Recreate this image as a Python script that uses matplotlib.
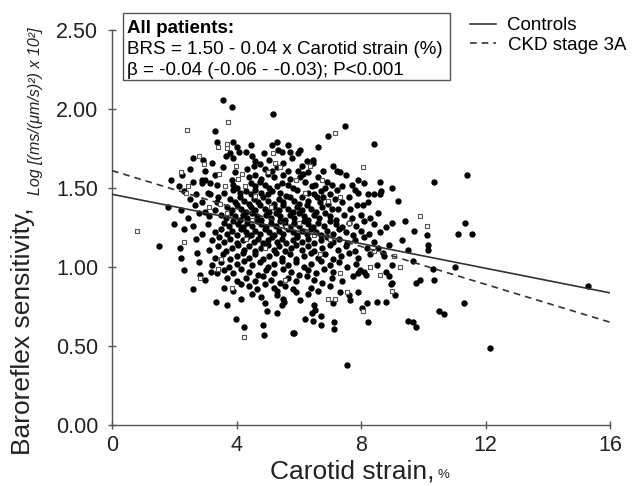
import matplotlib
matplotlib.use("Agg")
import matplotlib.pyplot as plt
from matplotlib.patches import Rectangle
import numpy as np

plt.rcParams['font.family'] = ['Liberation Sans', 'DejaVu Sans']

# Controls (filled circles)
controls_pts = [
    (3.57, 2.06), (3.86, 2.01), (3.31, 1.86), (5.18, 1.97), (6.95, 1.83), (7.49, 1.89), (8.42, 1.78),
    (3.38, 1.79), (3.90, 1.79), (5.30, 1.79), (5.14, 1.77), (5.66, 1.77), (4.47, 1.77),
    (4.08, 1.73), (4.30, 1.73), (4.89, 1.72), (3.80, 1.72), (5.72, 1.73), (6.05, 1.74), (5.98, 1.72),
    (5.34, 1.74), (5.47, 1.73), (4.50, 1.70), (3.67, 1.70), (6.60, 1.76), (4.00, 1.76),
    (3.90, 1.69), (2.93, 1.68), (6.27, 1.67), (6.46, 1.68), (6.46, 1.66), (5.79, 1.69), (5.50, 1.66),
    (7.10, 1.64), (4.60, 1.67), (4.75, 1.65), (5.05, 1.68), (3.20, 1.66), (2.60, 1.69),
    (3.57, 1.63), (5.30, 1.63), (5.14, 1.61), (5.66, 1.61), (6.78, 1.61), (7.33, 1.60), (7.23, 1.61),
    (5.98, 1.61), (6.30, 1.60), (4.35, 1.62), (4.55, 1.64), (4.90, 1.62), (6.10, 1.64), (3.00, 1.61), (2.50, 1.62),
    (3.95, 1.60), (2.25, 1.58), (2.90, 1.55), (2.99, 1.55), (3.86, 1.55), (6.14, 1.59), (6.05, 1.57),
    (7.90, 1.55), (6.91, 1.54), (4.40, 1.57), (4.60, 1.58), (4.80, 1.56), (5.00, 1.59), (5.20, 1.57),
    (5.50, 1.58), (5.70, 1.56), (6.60, 1.57), (7.50, 1.58), (8.60, 1.54), (10.35, 1.54), (11.40, 1.58), (3.30, 1.58),
    (2.90, 1.53), (2.15, 1.51), (3.15, 1.53), (3.38, 1.52), (3.90, 1.52), (4.02, 1.50), (7.72, 1.52),
    (6.43, 1.51), (6.53, 1.52), (7.07, 1.52), (7.40, 1.51), (5.30, 1.51), (5.47, 1.53), (5.66, 1.52),
    (5.82, 1.50), (4.45, 1.53), (4.60, 1.51), (4.75, 1.54), (4.90, 1.52), (5.05, 1.50), (6.20, 1.54),
    (6.85, 1.50), (8.10, 1.53), (9.00, 1.50), (2.60, 1.54), (1.90, 1.55),
    (3.90, 1.49), (3.09, 1.47), (3.15, 1.46), (7.80, 1.49), (7.90, 1.47), (7.23, 1.49), (5.95, 1.49),
    (8.23, 1.46), (8.40, 1.46), (8.60, 1.46), (8.65, 1.48), (4.10, 1.47), (4.30, 1.48), (4.45, 1.46),
    (4.60, 1.49), (4.80, 1.47), (5.00, 1.46), (5.15, 1.48), (5.40, 1.47), (5.60, 1.45), (6.30, 1.47),
    (6.50, 1.46), (6.70, 1.48), (7.00, 1.46), (3.60, 1.47), (2.70, 1.46), (2.30, 1.48),
    (3.41, 1.44), (3.38, 1.41), (6.11, 1.44), (6.59, 1.44), (6.69, 1.41), (6.78, 1.44), (7.40, 1.41),
    (8.23, 1.41), (9.20, 1.42), (3.80, 1.43), (3.95, 1.41), (4.10, 1.44), (4.25, 1.42), (4.40, 1.40),
    (4.55, 1.43), (4.70, 1.41), (4.85, 1.44), (5.00, 1.42), (5.20, 1.40), (5.35, 1.43), (5.50, 1.41),
    (5.70, 1.44), (5.85, 1.42), (6.00, 1.40), (6.30, 1.42), (6.95, 1.40), (7.15, 1.43), (7.60, 1.44),
    (2.50, 1.43), (2.90, 1.41),
    (2.67, 1.39), (7.27, 1.37), (7.07, 1.37), (7.65, 1.37), (7.88, 1.39), (8.07, 1.39), (3.70, 1.38),
    (3.85, 1.36), (4.00, 1.39), (4.15, 1.37), (4.30, 1.35), (4.45, 1.38), (4.60, 1.36), (4.75, 1.39),
    (4.90, 1.37), (5.05, 1.35), (5.20, 1.38), (5.35, 1.36), (5.50, 1.39), (5.65, 1.37), (5.80, 1.35),
    (5.95, 1.38), (6.10, 1.36), (6.25, 1.39), (6.40, 1.37), (6.55, 1.35), (6.75, 1.38), (8.55, 1.34),
    (3.30, 1.36), (3.00, 1.35), (2.20, 1.36), (1.80, 1.38),
    (2.44, 1.31), (3.50, 1.33), (3.65, 1.31), (3.80, 1.34), (3.95, 1.32), (4.10, 1.30), (4.20, 1.33),
    (4.35, 1.31), (4.50, 1.34), (4.65, 1.32), (4.80, 1.30), (4.95, 1.33), (5.10, 1.31), (5.25, 1.34),
    (5.40, 1.32), (5.55, 1.30), (5.70, 1.33), (5.85, 1.31), (6.00, 1.34), (6.15, 1.32), (6.30, 1.30),
    (6.50, 1.33), (6.65, 1.31), (6.85, 1.34), (7.00, 1.32), (7.20, 1.30), (7.45, 1.33), (7.70, 1.31),
    (8.00, 1.33), (8.30, 1.31), (9.40, 1.29), (3.10, 1.32), (2.80, 1.34),
    (3.09, 1.27), (8.80, 1.25), (11.35, 1.28), (3.60, 1.28), (3.75, 1.26), (3.90, 1.29), (4.05, 1.27),
    (4.20, 1.25), (4.35, 1.28), (4.50, 1.26), (4.65, 1.29), (4.80, 1.27), (4.95, 1.25), (5.10, 1.28),
    (5.25, 1.26), (5.40, 1.29), (5.55, 1.27), (5.70, 1.25), (5.85, 1.28), (6.00, 1.26), (6.15, 1.29),
    (6.30, 1.27), (6.45, 1.25), (6.60, 1.28), (6.80, 1.26), (7.00, 1.29), (7.20, 1.27), (7.40, 1.25),
    (7.60, 1.28), (7.85, 1.26), (8.10, 1.29), (8.40, 1.27), (9.00, 1.28), (2.60, 1.26), (2.00, 1.27),
    (11.55, 1.21), (11.10, 1.21), (3.30, 1.22), (3.50, 1.24), (3.70, 1.21), (3.85, 1.23), (4.00, 1.20),
    (4.15, 1.24), (4.30, 1.22), (4.45, 1.20), (4.60, 1.23), (4.75, 1.21), (4.90, 1.24), (5.05, 1.22),
    (5.20, 1.20), (5.35, 1.23), (5.50, 1.21), (5.65, 1.24), (5.80, 1.22), (5.95, 1.20), (6.10, 1.23),
    (6.25, 1.21), (6.40, 1.24), (6.55, 1.22), (6.70, 1.20), (6.90, 1.23), (7.10, 1.21), (7.30, 1.24),
    (7.50, 1.22), (7.75, 1.20), (8.00, 1.23), (8.25, 1.21), (8.60, 1.22), (9.70, 1.23), (10.10, 1.20),
    (2.90, 1.21), (2.30, 1.24),
    (8.90, 1.14), (10.15, 1.14), (3.20, 1.17), (3.45, 1.19), (3.60, 1.16), (3.80, 1.18), (4.00, 1.15),
    (4.20, 1.17), (4.35, 1.19), (4.55, 1.16), (4.70, 1.18), (4.85, 1.15), (5.00, 1.17), (5.15, 1.19),
    (5.30, 1.16), (5.45, 1.18), (5.60, 1.15), (5.80, 1.17), (5.95, 1.19), (6.10, 1.16), (6.30, 1.18),
    (6.50, 1.15), (6.70, 1.17), (6.90, 1.19), (7.10, 1.16), (7.30, 1.18), (7.55, 1.15), (7.80, 1.17),
    (8.10, 1.19), (8.40, 1.16), (9.30, 1.17), (2.70, 1.18),
    (2.19, 1.12), (10.15, 1.11), (8.55, 1.12), (3.10, 1.11), (3.40, 1.13), (3.65, 1.10), (3.85, 1.12),
    (4.05, 1.14), (4.25, 1.11), (4.40, 1.13), (4.60, 1.10), (4.80, 1.12), (5.00, 1.14), (5.20, 1.11),
    (5.35, 1.13), (5.55, 1.10), (5.75, 1.12), (5.90, 1.14), (6.10, 1.11), (6.30, 1.13), (6.50, 1.10),
    (6.75, 1.12), (7.00, 1.14), (7.25, 1.11), (7.50, 1.13), (7.80, 1.10), (8.20, 1.12), (9.50, 1.11),
    (1.50, 1.13),
    (2.73, 1.09), (8.70, 1.09), (8.75, 1.07), (3.30, 1.06), (3.55, 1.08), (3.80, 1.05), (4.00, 1.07),
    (4.20, 1.09), (4.40, 1.06), (4.60, 1.08), (4.85, 1.05), (5.05, 1.07), (5.25, 1.09), (5.45, 1.06),
    (5.70, 1.08), (5.90, 1.05), (6.15, 1.07), (6.40, 1.09), (6.60, 1.06), (6.85, 1.08), (7.10, 1.05),
    (7.35, 1.07), (7.60, 1.09), (7.90, 1.06), (8.30, 1.08), (9.65, 1.04), (2.20, 1.06),
    (9.00, 1.01), (10.30, 0.99), (11.00, 1.00), (3.20, 1.01), (3.50, 1.03), (3.75, 1.00), (4.00, 1.02),
    (4.25, 1.04), (4.50, 1.01), (4.75, 1.03), (5.00, 1.00), (5.20, 1.02), (5.45, 1.04), (5.65, 1.01),
    (5.90, 1.03), (6.15, 1.00), (6.40, 1.02), (6.70, 1.04), (7.00, 1.01), (7.30, 1.03), (7.55, 1.00),
    (7.85, 1.02), (8.50, 1.01), (2.80, 1.03),
    (3.18, 0.97), (3.38, 0.96), (2.83, 0.95), (3.60, 0.98), (3.90, 0.96), (4.15, 0.99), (4.40, 0.97),
    (4.70, 0.95), (4.95, 0.98), (5.20, 0.96), (5.50, 0.99), (5.75, 0.97), (6.00, 0.95), (6.30, 0.98),
    (6.55, 0.96), (6.80, 0.99), (7.10, 0.97), (7.90, 0.96), (7.95, 0.98), (8.10, 0.97), (8.15, 0.95),
    (8.80, 0.97), (2.30, 0.98),
    (8.90, 0.94), (9.00, 0.90), (8.95, 0.89), (9.75, 0.90), (9.90, 0.92), (10.35, 0.92), (3.70, 0.93),
    (4.00, 0.91), (4.30, 0.93), (4.60, 0.91), (4.85, 0.94), (5.10, 0.92), (5.40, 0.90), (5.65, 0.93),
    (5.90, 0.91), (6.25, 0.94), (6.50, 0.92), (6.75, 0.90), (7.05, 0.93), (7.40, 0.91), (7.75, 0.94),
    (3.00, 0.92),
    (3.60, 0.87), (4.15, 0.89), (4.40, 0.88), (4.65, 0.86), (4.90, 0.89), (5.20, 0.87), (5.30, 0.85),
    (5.55, 0.88), (5.80, 0.86), (6.40, 0.87), (6.60, 0.85), (7.00, 0.88), (7.33, 0.84), (2.60, 0.86),
    (3.90, 0.85),
    (9.10, 0.82), (7.60, 0.82), (3.34, 0.78), (4.15, 0.80), (5.30, 0.82), (5.50, 0.80), (6.05, 0.79),
    (4.50, 0.83), (4.80, 0.81), (6.30, 0.83), (5.90, 0.84), (7.90, 0.84),
    (8.50, 0.78), (8.80, 0.78), (11.30, 0.77), (4.92, 0.77), (5.45, 0.76), (5.52, 0.78), (7.65, 0.79),
    (7.10, 0.77), (8.20, 0.77), (3.70, 0.76), (6.50, 0.76),
    (4.98, 0.72), (5.30, 0.71), (6.43, 0.71), (10.50, 0.72), (10.65, 0.70), (8.04, 0.74), (6.53, 0.73),
    (3.98, 0.67), (4.24, 0.62), (4.86, 0.63), (4.89, 0.57), (6.20, 0.67), (6.47, 0.66), (6.70, 0.69),
    (6.70, 0.63), (7.14, 0.65), (7.14, 0.61), (5.82, 0.58), (5.85, 0.58), (7.55, 0.38), (8.23, 0.65),
    (9.50, 0.66), (9.65, 0.65), (9.75, 0.62), (12.15, 0.49), (15.30, 0.88),
]

# CKD stage 3A (open squares)
ckd_pts = [
    (0.80, 1.23), (2.41, 1.87), (3.73, 1.92), (7.17, 1.85), (3.41, 1.76), (3.70, 1.78), (3.70, 1.75),
    (2.96, 1.65), (3.99, 1.64), (4.18, 1.59), (3.44, 1.59), (2.44, 1.51), (3.63, 1.51), (4.05, 1.56),
    (4.28, 1.51), (2.38, 1.47), (3.47, 1.40), (3.70, 1.34), (5.18, 1.72), (6.37, 1.64), (5.24, 1.66),
    (5.40, 1.63), (8.07, 1.63), (6.75, 1.55), (6.95, 1.42), (7.33, 1.44), (9.90, 1.32), (10.10, 1.26),
    (6.69, 1.08), (7.33, 0.96), (8.30, 1.00), (5.56, 0.92), (9.05, 1.07), (9.26, 1.00), (9.00, 0.85),
    (6.95, 0.80), (7.17, 0.80), (7.55, 0.84), (8.07, 0.72), (2.83, 0.93), (3.86, 0.87), (4.24, 0.56),
    (3.40, 0.99), (4.60, 1.45), (5.10, 1.38), (5.60, 1.25), (4.30, 1.18), (6.00, 1.28), (5.00, 1.60),
    (6.20, 1.47), (4.90, 1.12), (7.60, 1.28), (8.40, 1.10), (3.10, 1.38), (2.20, 1.60), (4.50, 1.30),
    (5.90, 1.55), (6.50, 1.20), (3.50, 1.05), (7.00, 1.18), (8.60, 0.95), (2.30, 1.16), (2.80, 1.70),
]

# regression lines: intercept, slope
controls_fit = (1.46, -0.039)
ckd_fit = (1.61, -0.060)
x_fit = [0, 16]

xticks = [0, 4, 8, 12, 16]
yticks = [0.0, 0.5, 1.0, 1.5, 2.0, 2.5]

ctrl = np.array(controls_pts)
ckd = np.array(ckd_pts)
xf = np.array(x_fit)

fig = plt.figure(figsize=(6.33, 4.86), dpi=100)
ax = fig.add_axes([0.177, 0.1255, 0.787, 0.8128])

ax.scatter(ctrl[:, 0], ctrl[:, 1], s=21, c='black', marker='o', linewidths=0, zorder=2)
ax.scatter(ckd[:, 0], ckd[:, 1], s=10, facecolors='white', edgecolors='#555555',
           marker='s', linewidths=0.8, zorder=3)

l1, = ax.plot(xf, controls_fit[0] + controls_fit[1] * xf, color='#333333', lw=1.2,
              label='Controls', zorder=4)
l2, = ax.plot(xf, ckd_fit[0] + ckd_fit[1] * xf, color='#333333', lw=1.2,
              ls=(0, (4, 3)), label='CKD stage 3A', zorder=4)

ax.set_xlim(0, 16)
ax.set_ylim(0, 2.5)
ax.set_xticks(xticks)
ax.set_yticks(yticks)
ax.set_yticklabels(['%.2f' % v for v in yticks])
ax.tick_params(direction='inout', length=6, width=1, color='#555555', labelsize=15.5,
               labelcolor='#222222')
ax.tick_params(axis='y', pad=7)
ax.tick_params(axis='x', pad=4)
for s in ['top', 'right']:
    ax.spines[s].set_visible(False)
for s in ['left', 'bottom']:
    ax.spines[s].set_color('#555555')
    ax.spines[s].set_linewidth(1)

# axis labels (two sizes)
W, H = 633, 486
fig.text(270 / W, 1 - 478 / H, 'Carotid strain,', fontsize=19, ha='left', va='baseline',
         color='#222222')
fig.text(438 / W, 1 - 478 / H, '%', fontsize=9.5, ha='left', va='baseline', color='#222222')
fig.text(30 / W, 1 - 455 / H, 'Baroreflex sensitivity,', fontsize=19, rotation=90,
         rotation_mode='anchor', ha='left', va='baseline', color='#222222')
fig.text(40 / W, 1 - 195 / H, 'Log [(ms/(\u03bcm/s)\u00b2) x 10\u00b2]', fontsize=11.5,
         style='italic', rotation=90, rotation_mode='anchor', ha='left', va='baseline',
         color='#222222')

# annotation box
fig.patches.append(Rectangle((123 / W, 1 - 80 / H), (450 - 123) / W, (80 - 13) / H,
                             transform=fig.transFigure, fill=False, edgecolor='#555555', lw=1))
fig.text(127 / W, 1 - 33 / H, 'All patients:', fontsize=13.5, fontweight='bold', va='baseline')
fig.text(127 / W, 1 - 54 / H, 'BRS = 1.50 - 0.04 x Carotid strain (%)', fontsize=13.5, va='baseline')
fig.text(127 / W, 1 - 75 / H, '\u03b2 = -0.04 (-0.06 - -0.03); P<0.001', fontsize=13.5, va='baseline')

fig.legend(handles=[l1, l2], loc='upper left', bbox_to_anchor=(470 / W, 1 - 17 / H),
           frameon=False, fontsize=13.5, handlelength=1.4, handletextpad=0.6,
           labelspacing=0.15, borderpad=0, borderaxespad=0)

fig.savefig('out.png', dpi=100)
